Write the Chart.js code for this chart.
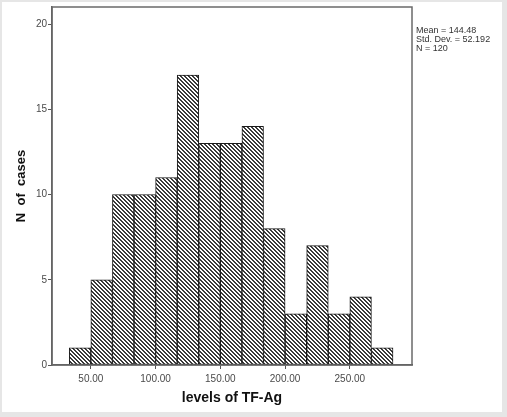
<!DOCTYPE html>
<html>
<head>
<meta charset="utf-8">
<script src="https://cdn.jsdelivr.net/npm/chart.js@4.4.1/dist/chart.umd.min.js"></script>
<style>
  html, body { margin: 0; padding: 0; background: #e6e6e6; }
  #wrap { position: absolute; left: 0; top: 0; width: 507px; height: 417px; }
</style>
</head>
<body>
<div id="wrap"><canvas id="hist" width="507" height="417"></canvas></div>
<script>
// Histogram bins (lower edges) and counts
const binStarts = [33.33, 50.00, 66.67, 83.33, 100.00, 116.67, 133.33, 150.00,
                   166.67, 183.33, 200.00, 216.67, 233.33, 250.00, 266.67];
const binWidth = 16.67;
const counts = [1, 5, 10, 10, 11, 17, 13, 13, 14, 8, 3, 7, 3, 4, 1];

const xTicks = [50, 100, 150, 200, 250];
const yTicks = [0, 5, 10, 15, 20];
const statsLines = ['Mean = 144.48', 'Std. Dev. = 52.192', 'N = 120'];

// diagonal hatch fill like the SPSS bars
function makeHatch() {
    const c = document.createElement('canvas');
    c.width = 4; c.height = 4;
    const g = c.getContext('2d');
    g.fillStyle = '#ffffff';
    g.fillRect(0, 0, 4, 4);
    g.fillStyle = '#3a3a3a';
    for (let i = 0; i < 4; i++) {
        g.fillRect(i, i, 1, 1);
        g.fillRect((i + 1) % 4, i, 1, 1);
    }
    return g.createPattern(c, 'repeat');
}

const ctx = document.getElementById('hist').getContext('2d');
const hatch = makeHatch();

const points = binStarts.map((s, i) => ({ x: s + binWidth / 2, y: counts[i] }));

// paints the grey frame, the white panel, the plot box and the stats text
const framePlugin = {
    id: 'frame',
    beforeDraw(chart) {
        const c = chart.ctx;
        c.save();
        c.fillStyle = '#e6e6e6';
        c.fillRect(0, 0, chart.width, chart.height);
        c.fillStyle = '#ffffff';
        c.fillRect(2, 2, 500, 410);
        c.restore();
    },
    afterDraw(chart) {
        const c = chart.ctx;
        const a = chart.chartArea;
        c.save();
        c.strokeStyle = '#6a6a6a';
        c.lineWidth = 1.5;
        c.strokeRect(a.left, a.top, a.right - a.left, a.bottom - a.top);
        c.fillStyle = '#333333';
        c.font = '9px "Liberation Sans", Arial, sans-serif';
        c.textBaseline = 'middle';
        statsLines.forEach((t, i) => c.fillText(t, a.right + 4, 31 + i * 9));
        c.restore();
    }
};

new Chart(ctx, {
    type: 'bar',
    data: {
        datasets: [{
            label: 'N of cases',
            data: points,
            backgroundColor: hatch,
            borderColor: '#1a1a1a',
            borderWidth: 1,
            borderSkipped: false,
            barPercentage: 1,
            categoryPercentage: 1
        }]
    },
    options: {
        responsive: false,
        animation: false,
        devicePixelRatio: 1,
        layout: { padding: { left: 0, top: 7, right: 95, bottom: 0 } },
        plugins: {
            legend: { display: false },
            tooltip: { enabled: false }
        },
        scales: {
            x: {
                type: 'linear',
                min: 20,
                max: 298,
                offset: false,
                afterFit(scale) { scale.height = 52; },
                afterBuildTicks(scale) { scale.ticks = xTicks.map(v => ({ value: v })); },
                grid: { offset: false, drawOnChartArea: false, drawTicks: true, tickLength: 4, color: '#555555' },
                border: { display: true, color: '#555555', width: 1.5 },
                ticks: {
                    color: '#4a4a4a',
                    padding: 4,
                    maxRotation: 0,
                    font: { family: '"Liberation Sans", Arial, sans-serif', size: 10 },
                    callback: v => v.toFixed(2)
                },
                title: {
                    display: true,
                    text: 'levels of TF-Ag',
                    color: '#111111',
                    padding: { top: 0, bottom: 10 },
                    font: { family: '"Liberation Sans", Arial, sans-serif', size: 14, weight: 'bold' }
                }
            },
            y: {
                min: 0,
                max: 21,
                afterFit(scale) { scale.width = 52; },
                afterBuildTicks(scale) { scale.ticks = yTicks.map(v => ({ value: v })); },
                grid: { drawOnChartArea: false, drawTicks: true, tickLength: 4, color: '#555555' },
                border: { display: true, color: '#555555', width: 1.5 },
                ticks: {
                    color: '#4a4a4a',
                    padding: 1,
                    font: { family: '"Liberation Sans", Arial, sans-serif', size: 10 }
                },
                title: {
                    display: true,
                    text: 'N  of  cases',
                    color: '#111111',
                    padding: { top: 14, bottom: 0 },
                    font: { family: '"Liberation Sans", Arial, sans-serif', size: 13, weight: 'bold' }
                }
            }
        }
    },
    plugins: [framePlugin]
});
</script>
</body>
</html>
